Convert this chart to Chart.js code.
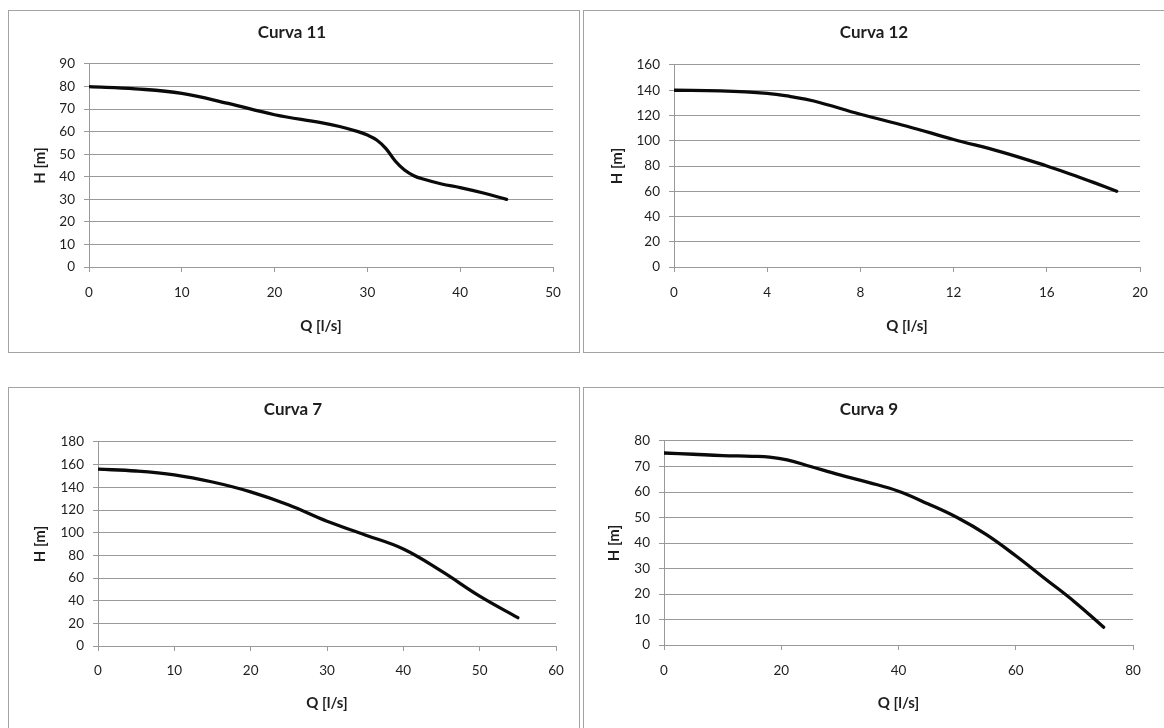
<!DOCTYPE html>
<html>
<head>
<meta charset="utf-8">
<script src="https://cdn.jsdelivr.net/npm/chart.js@4.4.1/dist/chart.umd.min.js"></script>
<style>
  html, body { margin: 0; padding: 0; background: #ffffff; width: 1164px; height: 728px; overflow: hidden; }
  .panel { position: absolute; border: 1px solid #a3a3a3; box-sizing: border-box; background: #fff; }
  canvas { position: absolute; }
</style>
</head>
<body>
<div class="panel" style="left:8px;top:10px;width:572px;height:343px;"></div>
<div class="panel" style="left:583px;top:10px;width:590px;height:343px;"></div>
<div class="panel" style="left:8px;top:387px;width:572px;height:360px;"></div>
<div class="panel" style="left:583px;top:387px;width:590px;height:360px;"></div>
<canvas id="c11"></canvas>
<canvas id="c12"></canvas>
<canvas id="c7"></canvas>
<canvas id="c9"></canvas>
<script>
// ---- Data ----
const titles = ["Curva 11", "Curva 12", "Curva 7", "Curva 9"];
const xTitle = "Q [l/s]";
const yTitle = "H [m]";

const q11 = [0, 5, 10, 15, 20, 25, 27, 29, 30, 31, 32, 33, 34, 35, 36, 38, 40, 42.5, 45];
const h11 = [80, 79, 77, 72.5, 67.5, 64, 62.3, 60, 58.5, 56.3, 52.5, 47, 43, 40.5, 39, 36.8, 35.2, 32.8, 30];

const q12 = [0, 2, 4, 5, 6, 8, 10, 12, 14, 16, 17, 18, 19];
const h12 = [140, 139.5, 137.5, 135, 131.5, 121, 111.5, 101, 91.4, 80, 73.7, 67, 60];

const q7 = [0, 5, 10, 15, 20, 25, 30, 35, 40, 45, 50, 55];
const h7 = [156, 154.4, 151, 144.7, 136, 124.4, 110, 98, 85.6, 66, 44, 25];

const q9 = [0, 5, 10, 15, 18, 21, 25, 30, 35, 40, 45, 50, 55, 60, 65, 70, 75];
const h9 = [75.3, 74.8, 74.3, 74, 73.7, 72.6, 70, 66.7, 63.7, 60.3, 55.4, 50, 43.3, 35, 26, 17, 7];

// axis ranges / tick steps
const xMax  = [50, 20, 60, 80];
const xStep = [10, 4, 10, 20];
const yMax  = [90, 160, 180, 80];
const yStep = [10, 20, 20, 10];

// ---- Layout (page pixel positions) ----
const FONT = "Lato, 'Open Sans', sans-serif";
const GRID = "#9a9a9a";
const TXT = "#1e1e1e";

const layouts = [
  { id: "c11", panel: {x: 8,   y: 10,  w: 572, h: 343}, plot: {l: 89,  r: 553,  t: 64,  b: 267}, titleCX: 292, titleCY: 33,  yTitleCX: 38,  xTickCY: 293, xTitleCY: 326 },
  { id: "c12", panel: {x: 583, y: 10,  w: 582, h: 343}, plot: {l: 674, r: 1140, t: 65,  b: 267}, titleCX: 874, titleCY: 33,  yTitleCX: 614, xTickCY: 293, xTitleCY: 326 },
  { id: "c7",  panel: {x: 8,   y: 387, w: 572, h: 360}, plot: {l: 98,  r: 556,  t: 442, b: 646}, titleCX: 293, titleCY: 410, yTitleCX: 40,  xTickCY: 671, xTitleCY: 703 },
  { id: "c9",  panel: {x: 583, y: 387, w: 582, h: 360}, plot: {l: 664, r: 1133, t: 441, b: 645}, titleCX: 869, titleCY: 410, yTitleCX: 614, xTickCY: 671, xTitleCY: 703 }
];

const seriesQ = [q11, q12, q7, q9];
const seriesH = [h11, h12, h7, h9];

function build(i) {
  const L0 = layouts[i];
  const cx = L0.panel.x + 1, cy = L0.panel.y + 1;
  const W = L0.panel.w - 2, H = L0.panel.h - 2;
  const cv = document.getElementById(L0.id);
  cv.width = W; cv.height = H;
  cv.style.left = cx + "px"; cv.style.top = cy + "px";
  cv.style.width = W + "px"; cv.style.height = H + "px";

  const pl = L0.plot.l - cx, pr = L0.plot.r - cx, pt = L0.plot.t - cy, pb = L0.plot.b - cy;
  const R = W - pr;
  const tc = L0.titleCX - cx;
  let Lp = 2 * tc - W + R;
  Lp = Math.max(0, Math.min(Lp, pl - 40));
  const yWidth = pl - Lp;

  const titleSize = 17, titleLH = titleSize * 1.2;
  const tPadTop = (L0.titleCY - cy) - titleLH / 2;
  const tPadBottom = pt - (tPadTop + titleLH);

  const axTitleSize = 15, axLH = axTitleSize * 1.2;
  const yTitlePad = Math.max(0, (L0.yTitleCX - cx) - Lp - axLH / 2);

  const tickSize = 13.5, tickLH = tickSize * 1.2;
  const tickLen = 5;
  const xTickPad = (L0.xTickCY - cy) - pb - tickLen - tickLH / 2;
  const xTitlePadB = 2;
  const xHeight = (L0.xTitleCY - cy) - pb + axLH / 2 + xTitlePadB;
  const padBottom = Math.max(0, H - (pb + xHeight));

  const pts = seriesQ[i].map((q, k) => ({x: q, y: seriesH[i][k]}));

  return new Chart(cv, {
    type: "line",
    data: {
      datasets: [{
        data: pts,
        borderColor: "#0a0a0a",
        borderWidth: 3.3,
        pointRadius: 0,
        fill: false,
        tension: 0.4,
        borderCapStyle: "round",
        borderJoinStyle: "round"
      }]
    },
    options: {
      responsive: false,
      animation: false,
      devicePixelRatio: 1,
      layout: { padding: { left: Lp, right: R, top: 0, bottom: padBottom } },
      plugins: {
        legend: { display: false },
        tooltip: { enabled: false },
        title: {
          display: true,
          text: titles[i],
          color: TXT,
          font: { family: FONT, size: titleSize, weight: "bold", lineHeight: 1.2 },
          padding: { top: tPadTop, bottom: tPadBottom }
        }
      },
      scales: {
        x: {
          type: "linear",
          min: 0, max: xMax[i],
          ticks: { stepSize: xStep[i], color: TXT, padding: xTickPad,
                   font: { family: FONT, size: tickSize, lineHeight: 1.2 }, maxRotation: 0 },
          grid: { drawOnChartArea: false, drawTicks: true, tickLength: tickLen, color: GRID, lineWidth: 1 },
          border: { display: true, color: GRID, width: 1 },
          title: { display: true, text: xTitle, color: TXT,
                   font: { family: FONT, size: axTitleSize, weight: "bold", lineHeight: 1.2 },
                   padding: { top: 0, bottom: xTitlePadB } },
          afterFit: (s) => { s.height = xHeight; }
        },
        y: {
          type: "linear",
          min: 0, max: yMax[i],
          ticks: { stepSize: yStep[i], color: TXT, padding: 9,
                   font: { family: FONT, size: tickSize, lineHeight: 1.2 } },
          grid: { drawTicks: true, tickLength: tickLen, color: GRID, lineWidth: 1 },
          border: { display: true, color: GRID, width: 1 },
          title: { display: true, text: yTitle, color: TXT,
                   font: { family: FONT, size: axTitleSize, weight: "bold", lineHeight: 1.2 },
                   padding: { top: yTitlePad, bottom: 0 } },
          afterFit: (s) => { s.width = yWidth; }
        }
      }
    }
  });
}

for (let i = 0; i < 4; i++) build(i);
</script>
</body>
</html>
